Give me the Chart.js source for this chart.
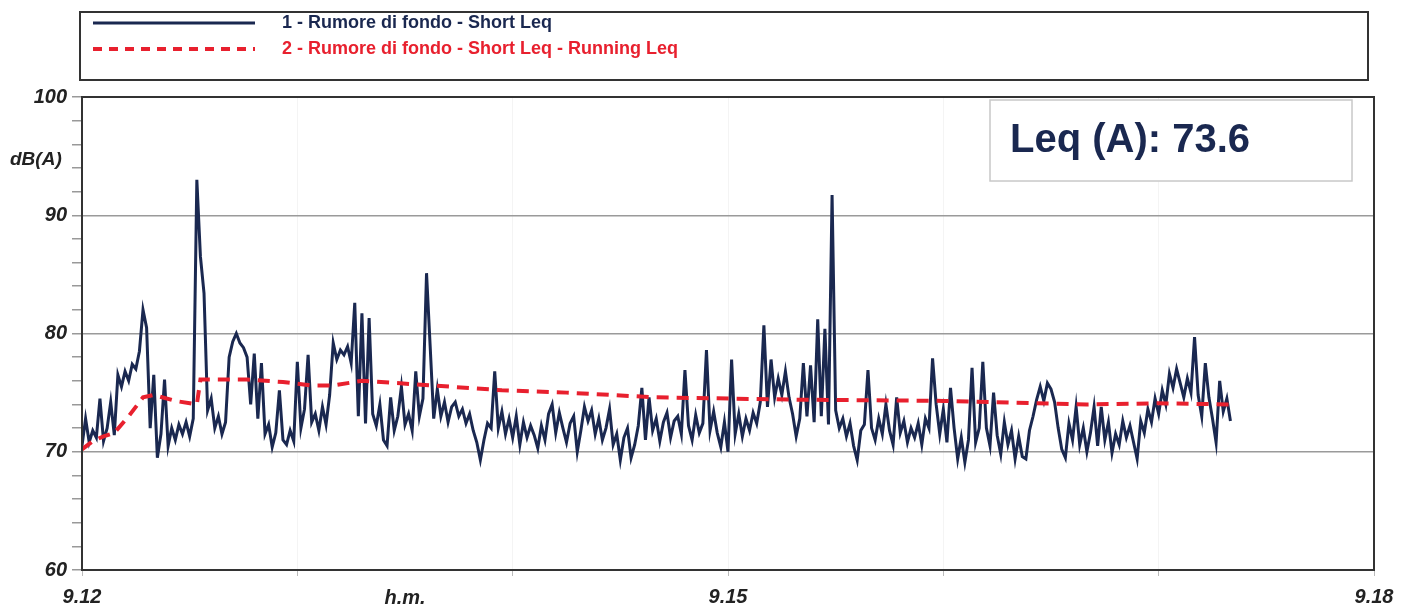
<!DOCTYPE html>
<html>
<head>
<meta charset="utf-8">
<script src="https://cdn.jsdelivr.net/npm/chart.js@4.4.1/dist/chart.umd.min.js"></script>
<style>
  html, body { margin: 0; padding: 0; background: #fff; }
  canvas { display: block; }
</style>
</head>
<body>
<canvas id="leq-chart" width="1416" height="609"></canvas>
<script>
// Short Leq, one value per second starting at 9.12
var shortLeq = [
  70.5,72.8,70.8,71.8,71.2,74.5,70.9,72.0,74.2,71.4,
  76.5,75.5,76.8,76.0,77.4,77.0,78.5,82.0,80.5,72.0,
  76.5,69.5,71.5,76.1,70.5,72.0,71.0,72.3,71.5,72.5,
  71.3,72.8,93.0,86.5,83.4,73.5,74.5,72.0,73.0,71.5,
  72.5,78.0,79.3,80.0,79.2,78.8,78.0,74.0,78.3,72.8,
  77.5,71.5,72.3,70.4,71.6,75.2,71.0,70.6,71.8,70.9,
  77.6,72.0,73.6,78.2,72.5,73.2,71.8,73.8,72.3,74.8,
  79.2,77.8,78.6,78.2,78.9,77.5,82.6,73.0,81.7,72.4,
  81.3,73.2,72.2,74.0,71.0,70.5,74.6,71.8,73.0,75.5,
  72.3,73.2,71.8,76.8,73.0,74.5,85.1,79.0,72.8,75.3,
  73.0,74.2,72.5,73.8,74.2,73.0,73.6,72.4,73.2,71.8,
  70.8,69.3,71.0,72.4,72.0,76.8,72.0,73.4,71.5,72.8,
  71.2,73.0,70.6,72.5,71.2,72.2,71.4,70.3,72.2,71.0,
  73.2,74.0,71.6,73.3,72.0,70.8,72.4,73.0,70.0,71.8,
  73.8,72.6,73.5,71.5,72.8,71.0,72.0,73.6,70.6,71.5,
  69.3,71.2,72.0,69.5,70.6,72.2,75.4,71.0,74.6,71.8,
  72.8,70.9,72.5,73.3,71.2,72.6,73.0,71.5,76.9,72.2,
  71.0,73.1,71.6,72.4,78.6,71.8,73.4,71.6,70.4,72.5,
  70.0,77.8,71.5,73.2,71.3,72.8,71.8,73.3,72.4,74.2,
  80.7,73.8,77.8,74.6,76.2,74.8,76.8,74.6,73.2,71.3,
  72.8,77.5,73.0,77.3,72.5,81.2,73.0,80.4,72.3,91.7,
  73.5,72.0,72.8,71.3,72.4,70.5,69.3,71.8,72.3,76.9,
  72.0,71.0,72.8,71.5,74.0,71.8,70.6,74.6,71.6,72.6,
  70.8,72.0,71.2,72.4,70.6,72.8,72.0,77.9,74.0,71.5,
  73.6,70.8,75.4,72.0,69.4,71.2,69.1,71.0,77.1,70.8,
  72.0,77.6,72.0,70.5,75.0,71.4,69.8,72.5,70.6,71.8,
  69.4,71.3,69.6,69.4,71.8,73.0,74.4,75.5,74.3,75.8,
  75.3,74.2,72.0,70.2,69.5,72.4,71.0,73.8,70.6,72.0,
  70.0,71.6,73.8,70.5,73.8,71.0,72.5,69.9,71.5,70.6,
  72.6,71.2,72.2,70.8,69.4,72.6,71.6,73.6,72.5,74.5,
  73.2,75.2,74.0,76.6,75.4,77.0,75.8,74.6,76.2,75.0,
  79.7,74.8,73.0,77.5,74.6,72.8,70.8,76.0,73.4,74.5,
  72.6
];

// Running Leq, read at a few instants (seconds from 9.12)
var runSec = [0, 3, 6, 9, 13, 17, 20, 26, 32, 33, 36, 46, 56, 64, 70, 78, 98, 117, 135, 160, 200, 240, 280, 300, 320];
var runLeq = [70.2, 70.9, 71.3, 71.6, 73.0, 74.6, 74.8, 74.3, 74.0, 76.1, 76.1, 76.1, 75.9, 75.6, 75.6, 76.0, 75.6, 75.2, 75.0, 74.6, 74.4, 74.3, 74.0, 74.1, 74.0];

// x axis labels (seconds -> h.m)
var xTickLabels = { 0: '9.12', 180: '9.15', 360: '9.18' };
var seriesNames = ['1 - Rumore di fondo - Short Leq', '2 - Rumore di fondo - Short Leq - Running Leq'];
var leqTotal = 'Leq (A): 73.6';

var navy = '#1a2850';
var red = '#e8202e';
var tickFont = { family: 'Liberation Sans, Arial, sans-serif', size: 20, style: 'italic', weight: 'bold' };

var shortPts = shortLeq.map(function (v, i) { return { x: i, y: v }; });
var runPts = runSec.map(function (s, i) { return { x: s, y: runLeq[i] }; });

var decor = {
  id: 'decor',
  afterDraw: function (chart) {
    var c = chart.ctx, a = chart.chartArea;
    c.save();
    // plot frame
    c.strokeStyle = '#333';
    c.lineWidth = 2;
    c.strokeRect(a.left, a.top, a.right - a.left, a.bottom - a.top);

    // legend box
    c.strokeRect(80, 12, 1288, 68);
    c.lineWidth = 3;
    c.strokeStyle = navy;
    c.beginPath(); c.moveTo(93, 23); c.lineTo(255, 23); c.stroke();
    c.lineWidth = 4;
    c.strokeStyle = red;
    c.setLineDash([9, 7]);
    c.beginPath(); c.moveTo(93, 49); c.lineTo(255, 49); c.stroke();
    c.setLineDash([]);
    c.font = 'bold 18px Liberation Sans, Arial, sans-serif';
    c.textBaseline = 'middle';
    c.textAlign = 'left';
    c.fillStyle = navy;
    c.fillText(seriesNames[0], 282, 23);
    c.fillStyle = red;
    c.fillText(seriesNames[1], 282, 49);

    // Leq box
    c.strokeStyle = '#c8c8c8';
    c.lineWidth = 1.5;
    c.fillStyle = '#fff';
    c.fillRect(990, 100, 362, 81);
    c.strokeRect(990, 100, 362, 81);
    c.font = 'bold 40px Liberation Sans, Arial, sans-serif';
    c.fillStyle = navy;
    c.fillText(leqTotal, 1010, 141);

    // axis captions
    c.font = 'italic bold 19px Liberation Sans, Arial, sans-serif';
    c.fillStyle = '#222';
    c.fillText('dB(A)', 10, 160);
    c.font = 'italic bold 20px Liberation Sans, Arial, sans-serif';
    c.textAlign = 'center';
    c.fillText('h.m.', 405, 598);
    c.restore();
  }
};

var chart = new Chart(document.getElementById('leq-chart'), {
  type: 'line',
  data: {
    datasets: [
      {
        label: seriesNames[1],
        data: runPts,
        borderColor: red,
        borderWidth: 4,
        borderDash: [12, 8],
        pointRadius: 0,
        tension: 0,
        fill: false
      },
      {
        label: seriesNames[0],
        data: shortPts,
        borderColor: navy,
        borderWidth: 3,
        pointRadius: 0,
        tension: 0,
        fill: false
      }
    ]
  },
  options: {
    responsive: false,
    animation: false,
    devicePixelRatio: 1,
    layout: { padding: { top: 97, right: 42, left: 0, bottom: 0 } },
    plugins: { legend: { display: false }, tooltip: { enabled: false } },
    scales: {
      x: {
        type: 'linear',
        min: 0,
        max: 360,
        afterFit: function (s) { s.height = 39; },
        border: { display: true, color: '#222', width: 2 },
        grid: { color: '#f4f4f4', tickColor: '#bbb', tickLength: 6 },
        ticks: {
          stepSize: 60,
          autoSkip: false,
          maxRotation: 0,
          padding: 9,
          color: '#222',
          font: tickFont,
          callback: function (v) { return xTickLabels[v] || ''; }
        }
      },
      y: {
        min: 60,
        max: 100,
        afterFit: function (s) { s.width = 82; },
        border: { display: true, color: '#222', width: 2 },
        grid: {
          color: function (ctx) {
            var v = ctx.tick && ctx.tick.value;
            return (v % 10 === 0 && v > 60 && v < 100) ? '#9a9a9a' : 'rgba(0,0,0,0)';
          },
          lineWidth: 1.5,
          tickColor: '#999',
          tickLength: 10
        },
        ticks: {
          stepSize: 2,
          autoSkip: false,
          padding: 5,
          color: '#222',
          font: tickFont,
          callback: function (v) { return v % 10 === 0 ? v : ''; }
        }
      }
    }
  },
  plugins: [decor]
});
</script>
</body>
</html>
